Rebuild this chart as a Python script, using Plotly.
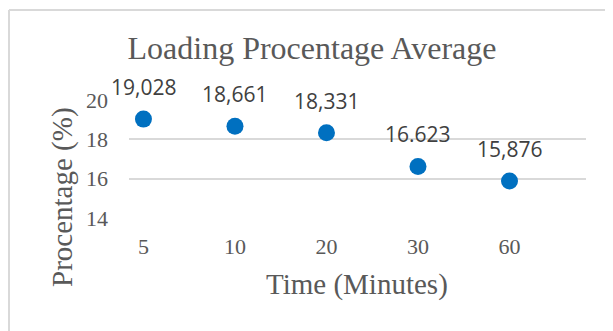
import plotly.graph_objects as go

# Data
categories = ["5", "10", "20", "30", "60"]
values = [19.028, 18.661, 18.331, 16.623, 15.876]
value_labels = ["19,028", "18,661", "18,331", "16.623", "15,876"]
y_ticks = [14, 16, 18, 20]

OFF = 8  # page body margin offset
W, H = 613 - OFF, 331 - OFF
# plot area in reference pixels
RPL, RPR, RPT, RPB = 129, 586, 100, 218
PL, PR, PT, PB = RPL - OFF, RPR - OFF, RPT - OFF, RPB - OFF

def px_x(px):
    return (px - RPL) / (RPR - RPL)

def px_y(py):
    return (RPB - py) / (RPB - RPT)

xpos = list(range(len(categories)))

fig = go.Figure()
fig.add_trace(go.Scatter(
    x=xpos, y=values, mode="markers",
    marker=dict(size=17, color="#0070C0"),
    cliponaxis=False, hoverinfo="skip", showlegend=False,
))

serif = "Liberation Serif"
grey = "#595959"

annotations = [
    dict(text=lab, x=xv, y=yv, xref="x", yref="y", yshift=32, showarrow=False,
         xanchor="center", yanchor="middle",
         font=dict(family="Open Sans", size=21, color="#404040"))
    for xv, yv, lab in zip(xpos, values, value_labels)
]
annotations += [
    dict(text="Time (Minutes)", xref="paper", yref="paper", x=px_x(357), y=px_y(284),
         xanchor="center", yanchor="middle", showarrow=False,
         font=dict(family=serif, size=29, color=grey)),
    dict(text="Procentage (%)", xref="paper", yref="paper", x=px_x(62), y=px_y(197),
         xanchor="center", yanchor="middle", showarrow=False, textangle=-90,
         font=dict(family=serif, size=29, color=grey)),
]

fig.update_layout(
    width=W, height=H,
    margin=dict(l=PL, r=W - PR, t=PT, b=H - PB, pad=0),
    paper_bgcolor="white", plot_bgcolor="white",
    title=dict(text="Loading Procentage Average", x=(312 - OFF) / W, xref="container", xanchor="center",
               y=1 - (48 - OFF) / H, yref="container", yanchor="middle",
               font=dict(family=serif, size=32, color=grey)),
    xaxis=dict(tickmode="array", tickvals=xpos, ticktext=categories,
               range=[-0.158, 4.836], showgrid=False, zeroline=False, showline=False,
               ticks="", ticklabelstandoff=13,
               tickfont=dict(family=serif, size=22, color=grey)),
    yaxis=dict(range=[14, 20], tickvals=y_ticks, showgrid=True, gridcolor="#D9D9D9", gridwidth=1.8,
               zeroline=False, showline=False, ticks="", ticklabelstandoff=20,
               tickfont=dict(family=serif, size=22, color=grey)),
    annotations=annotations,
    shapes=[
        dict(type="line", xref="paper", yref="paper", x0=px_x(9), x1=px_x(620),
             y0=px_y(10), y1=px_y(10), line=dict(color="#D9D9D9", width=2)),
        dict(type="line", xref="paper", yref="paper", x0=px_x(9), x1=px_x(9),
             y0=px_y(10), y1=px_y(340), line=dict(color="#D9D9D9", width=2)),
    ],
)

fig.write_html("out.html")
